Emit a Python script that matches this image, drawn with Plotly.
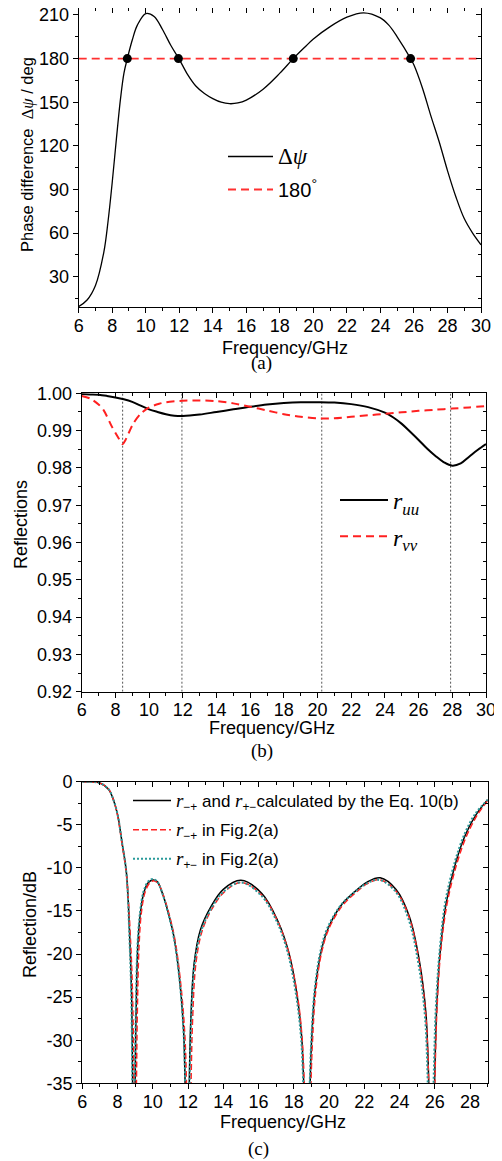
import plotly.graph_objects as go

# ---------------- data ----------------
# (a) phase difference
freq_a = [6, 6.5, 7, 7.5, 7.75, 8, 8.25, 8.5, 8.7, 8.9, 9.2, 9.5, 10, 10.5, 11, 11.5, 12, 12.5,
          13, 13.5, 14, 14.5, 15, 15.5, 16, 17, 18, 18.8, 19.5, 20, 21, 22, 23, 24, 24.5, 25,
          25.8, 26, 26.5, 27, 27.5, 28, 28.5, 29, 29.5, 30]
dpsi = [9.5, 14, 24, 47, 68, 95, 125, 153, 170, 180, 193, 203, 211, 209, 200, 189, 179.5, 169,
        161, 156, 152.5, 150, 149, 149.5, 151.5, 159, 170, 180, 188, 193.5, 202, 208.5, 211.5,
        208, 203, 195, 180, 175.6, 160, 141, 123, 103, 85, 70, 60, 52]
ref_f = [6, 30]
ref_180 = [180, 180]
cross_f = [8.9, 11.95, 18.8, 25.8]
cross_y = [180, 180, 180, 180]

# (b) reflections
freq_uu = [6, 6.5, 7, 7.5, 8, 8.5, 9, 9.5, 10, 10.5, 11, 11.5, 12, 13, 14, 15, 16, 17, 18, 19,
           20, 21, 22, 23, 24, 24.5, 25, 25.5, 26, 26.5, 27, 27.5, 28, 28.5, 29, 29.5, 30]
r_uu = [0.9998, 0.9997, 0.9996, 0.9993, 0.9989, 0.9984, 0.9977, 0.9967, 0.9957, 0.9950, 0.9944,
        0.9940, 0.9939, 0.9943, 0.9950, 0.9957, 0.9964, 0.9970, 0.9974, 0.9976, 0.9976, 0.9975,
        0.9971, 0.9963, 0.9948, 0.9935, 0.9918, 0.9897, 0.9875, 0.9852, 0.9832, 0.9815, 0.9806,
        0.9812, 0.9830, 0.9848, 0.9864]
freq_vv = [6, 6.5, 7, 7.3, 7.8, 8.2, 8.43, 8.6, 9.05, 9.5, 10, 10.6, 11, 12, 13, 14, 15, 16, 17,
           18, 19, 20, 21, 22, 23, 24, 25, 26, 27, 28, 29, 30]
r_vv = [0.9993, 0.9986, 0.9970, 0.9955, 0.9910, 0.9879, 0.9864, 0.9875, 0.9918, 0.9945, 0.9962,
        0.9972, 0.9976, 0.9980, 0.9981, 0.9979, 0.9973, 0.9964, 0.9954, 0.9944, 0.9937, 0.9933,
        0.9933, 0.9937, 0.9941, 0.9945, 0.9949, 0.9953, 0.9956, 0.9959, 0.9962, 0.9966]
mark_f = [8.43, 11.95, 20.25, 27.9]

# (c) reflection in dB
freq_eq = [6, 6.5, 7, 7.5, 7.75, 8, 8.25, 8.5, 8.7, 8.8, 8.92, 9.05, 9.15, 9.3, 9.5, 9.75, 10,
           10.25, 10.5, 10.85, 11.2, 11.5, 11.75, 11.95, 12.15, 12.35, 12.7, 13.3, 14, 15, 16.2,
           17.1, 17.7, 18.15, 18.45, 18.75, 19.0, 19.2, 19.55, 19.95, 20.7, 21.5, 22.2, 22.9,
           23.8, 24.55, 25.1, 25.5, 25.82, 26.1, 26.3, 26.65, 27.2, 27.75, 28.35, 29]
db_eq = [0, -0.02, -0.15, -0.9, -2.0, -3.8, -7.0, -10.5, -18.5, -25, -45, -27, -19, -15.2, -12.8,
         -11.7, -11.4, -11.6, -12.7, -15, -18, -22.5, -29, -45, -28, -21, -17.2, -14.5, -12.5,
         -11.45, -13, -16.2, -19.7, -24.3, -29.7, -45, -30.5, -24.3, -19.7, -17, -14.3, -12.7,
         -11.6, -11.15, -12.5, -15.6, -20.5, -27, -45, -26.5, -19.8, -14, -9.3, -6.1, -3.8, -2.1]
freq_mp = [6, 6.5, 7, 7.5, 7.75, 8, 8.25, 8.5, 8.75, 8.86, 9.0, 9.12, 9.22, 9.35, 9.55, 9.8,
           10.05, 10.3, 10.55, 10.9, 11.25, 11.55, 11.82, 12.05, 12.25, 12.45, 12.8, 13.4, 14.1,
           15.05, 16.2, 17.1, 17.7, 18.18, 18.48, 18.78, 19.05, 19.25, 19.6, 20.0, 20.75, 21.5,
           22.2, 22.9, 23.8, 24.55, 25.1, 25.5, 25.83, 26.12, 26.33, 26.7, 27.25, 27.8, 28.4, 29]
db_mp = [0, -0.02, -0.15, -0.9, -2.0, -3.9, -7.2, -10.7, -19, -25.5, -45, -27, -19, -15.2, -12.9,
         -11.8, -11.5, -11.8, -12.9, -15.2, -18.3, -22.8, -29.5, -45, -28, -21, -17.3, -14.6,
         -12.7, -11.7, -13.2, -16.3, -19.8, -24.5, -30, -45, -30.5, -24.2, -19.6, -17, -14.4,
         -12.9, -11.8, -11.4, -12.7, -15.8, -20.8, -27.5, -45, -26.5, -19.8, -14.1, -9.5, -6.3,
         -3.9, -2.2]
freq_pm = [6, 6.5, 7, 7.5, 7.75, 8, 8.25, 8.5, 8.68, 8.78, 8.9, 9.03, 9.13, 9.28, 9.48, 9.73,
           9.98, 10.25, 10.5, 10.85, 11.2, 11.5, 11.75, 11.98, 12.17, 12.38, 12.75, 13.35, 14.05,
           15, 16.15, 17.05, 17.65, 18.1, 18.42, 18.72, 18.98, 19.18, 19.52, 19.92, 20.68, 21.45,
           22.15, 22.85, 23.75, 24.5, 25.05, 25.45, 25.76, 26.05, 26.27, 26.6, 27.15, 27.7, 28.3, 29]
db_pm = [0, -0.02, -0.15, -0.9, -2.0, -3.8, -7.0, -10.6, -18.5, -25, -45, -27, -19, -15.1, -12.7,
         -11.6, -11.3, -11.6, -12.7, -15.1, -18.2, -22.7, -29.3, -45, -28, -21, -17.3, -14.6,
         -12.7, -11.7, -13.2, -16.3, -19.8, -24.4, -30, -45, -30.5, -24.2, -19.6, -16.9, -14.3,
         -12.8, -11.8, -11.4, -12.7, -15.9, -20.9, -27.5, -45, -26.5, -19.7, -13.9, -9.2, -6.0,
         -3.7, -2.1]
db_ticks = [0, -5, -10, -15, -20, -25, -30, -35]
db_ticktext = ["0", "-5", "-10", "-15", "-20", "-25", "-30", "-35"]

# the page body has an 8px margin, so the figure is drawn 8px in from the top-left
OFF = 8
W, H = 502 - OFF, 1161 - OFF
FONT = "Liberation Sans"
SERIF = "Liberation Serif"


def fx(px):
    return (px - OFF) / W


def fy(py):
    return 1 - (py - OFF) / H


fig = go.Figure()

# (a)
fig.add_trace(go.Scatter(x=freq_a, y=dpsi, mode="lines", line=dict(color="black", width=1.3, shape="spline", smoothing=1),
                         name=f'<span style="font-family:{SERIF};font-size:23px">Δ<i>ψ</i></span>',
                         legend="legend", legendgroup="a1"))
fig.add_trace(go.Scatter(x=ref_f, y=ref_180, mode="lines", line=dict(color="#FF3030", width=1.8, dash="8px,5px"),
                         name="180<sup>°</sup>", legend="legend", legendgroup="a2"))
fig.add_trace(go.Scatter(x=cross_f, y=cross_y, mode="markers", marker=dict(color="black", size=9),
                         showlegend=False))

# (b)
for f in mark_f:
    fig.add_trace(go.Scatter(x=[f, f], y=[0.92, 1.0], mode="lines", xaxis="x2", yaxis="y2",
                             line=dict(color="#555555", width=1, dash="2px,2px"), showlegend=False))
fig.add_trace(go.Scatter(x=freq_uu, y=r_uu, mode="lines", xaxis="x2", yaxis="y2",
                         line=dict(color="black", width=2, shape="spline", smoothing=1),
                         name=f'<span style="font-family:{SERIF}"><i>r</i><sub><i>uu</i></sub></span>',
                         legend="legend2", legendgroup="b1"))
fig.add_trace(go.Scatter(x=freq_vv, y=r_vv, mode="lines", xaxis="x2", yaxis="y2",
                         line=dict(color="#FF2020", width=2, dash="8px,5px", shape="spline", smoothing=0.8),
                         name=f'<span style="font-family:{SERIF}"><i>r</i><sub><i>vv</i></sub></span>',
                         legend="legend2", legendgroup="b2"))

# (c)
rs = f'<span style="font-family:{SERIF};font-size:19px"><i>r</i></span>'
fig.add_trace(go.Scatter(x=freq_eq, y=db_eq, mode="lines", xaxis="x3", yaxis="y3",
                         line=dict(color="black", width=1.5, shape="spline", smoothing=1),
                         name=f"{rs}<sub>−+</sub> and {rs}<sub>+−</sub>calculated by the Eq. 10(b)",
                         legend="legend3", legendgroup="c1"))
fig.add_trace(go.Scatter(x=freq_mp, y=db_mp, mode="lines", xaxis="x3", yaxis="y3",
                         line=dict(color="#FF2020", width=1.5, dash="6px,3px", shape="spline", smoothing=1),
                         name=f"{rs}<sub>−+</sub> in Fig.2(a)", legend="legend3", legendgroup="c2"))
fig.add_trace(go.Scatter(x=freq_pm, y=db_pm, mode="lines", xaxis="x3", yaxis="y3",
                         line=dict(color="#2A9A9A", width=2, dash="2px,2px", shape="spline", smoothing=1),
                         name=f"{rs}<sub>+−</sub> in Fig.2(a)", legend="legend3", legendgroup="c3"))

tickfont = dict(family=FONT, size=18, color="black")


def base_x(dom, anchor, rng, dtick, minor_dtick):
    return dict(domain=dom, anchor=anchor, range=rng, dtick=dtick, tick0=0, showgrid=False, zeroline=False,
                showline=True, linecolor="black", linewidth=1.3, mirror=True,
                ticks="outside", ticklen=5, tickwidth=1.2, tickcolor="black", tickfont=tickfont,
                ticklabelstandoff=-3, ticklabeloverflow="allow",
                minor=dict(dtick=minor_dtick, ticks="outside", ticklen=3, tickwidth=1, tickcolor="black"))


def base_y(dom, anchor, rng, dtick, minor_dtick, **extra):
    d = dict(domain=dom, anchor=anchor, range=rng, dtick=dtick, tick0=0, showgrid=False, zeroline=False,
             showline=True, linecolor="black", linewidth=1.3, mirror=True,
             ticks="outside", ticklen=5, tickwidth=1.2, tickcolor="black", tickfont=tickfont,
             ticklabeloverflow="allow",
             minor=dict(dtick=minor_dtick, ticks="outside", ticklen=3, tickwidth=1, tickcolor="black"))
    d.update(extra)
    return d


def over_x(main, anchor, rng, dtick, minor_dtick):
    return dict(overlaying=main, anchor=anchor, side="top", range=rng, dtick=dtick, tick0=0,
                showgrid=False, zeroline=False, showline=False, showticklabels=False,
                ticks="inside", ticklen=5, tickwidth=1.2, tickcolor="black",
                minor=dict(dtick=minor_dtick, ticks="inside", ticklen=3, tickwidth=1, tickcolor="black"))


def over_y(main, anchor, rng, dtick, minor_dtick):
    return dict(overlaying=main, anchor=anchor, side="right", range=rng, dtick=dtick, tick0=0,
                showgrid=False, zeroline=False, showline=False, showticklabels=False,
                ticks="inside", ticklen=5, tickwidth=1.2, tickcolor="black",
                minor=dict(dtick=minor_dtick, ticks="inside", ticklen=3, tickwidth=1, tickcolor="black"))


# plot areas in reference pixels (left, right, top, bottom)
xa_dom, ya_dom = [fx(78.7), fx(481)], [fy(307), fy(8.3)]
xb_dom, yb_dom = [fx(81.7), fx(486)], [fy(691.7), fy(393.3)]
xc_dom, yc_dom = [fx(82.3), fx(487.7)], [fy(1083.3), fy(781.7)]

rng_ya = [9.2, 214.6]
rng_yb = [0.92, 1.0]
rng_yc = [-35, 0]

# invisible traces so the overlay axes get drawn
for xa, ya in [("x4", "y4"), ("x5", "y5"), ("x6", "y6")]:
    fig.add_trace(go.Scatter(x=[None], y=[None], xaxis=xa, yaxis=ya, showlegend=False, hoverinfo="skip"))

fig.update_layout(
    width=W, height=H,
    margin=dict(l=0, r=0, t=0, b=0, pad=0, autoexpand=False),
    paper_bgcolor="white", plot_bgcolor="rgba(0,0,0,0)",
    font=dict(family=FONT, color="black"),
    xaxis=base_x(xa_dom, "y", [6, 30], 2, 1),
    yaxis=base_y(ya_dom, "x", rng_ya, 30, 15),
    xaxis2=base_x(xb_dom, "y2", [6, 30], 2, 1),
    yaxis2=base_y(yb_dom, "x2", rng_yb, 0.01, 0.005, tickformat=".2f"),
    xaxis3=base_x(xc_dom, "y3", [6, 29], 2, 1),
    yaxis3=base_y(yc_dom, "x3", rng_yc, 5, 2.5, tickmode="array", tickvals=db_ticks, ticktext=db_ticktext),
    xaxis4=over_x("x", "y4", [6, 30], 2, 1),
    yaxis4=over_y("y", "x4", rng_ya, 30, 15),
    xaxis5=over_x("x2", "y5", [6, 30], 2, 1),
    yaxis5=over_y("y2", "x5", rng_yb, 0.01, 0.005),
    xaxis6=over_x("x3", "y6", [6, 29], 2, 1),
    yaxis6=over_y("y3", "x6", rng_yc, 5, 2.5),
    legend=dict(x=fx(223), y=fy(137), xanchor="left", yanchor="top", bgcolor="rgba(0,0,0,0)",
                font=dict(family=FONT, size=20, color="black"), tracegroupgap=4, itemwidth=45),
    legend2=dict(x=fx(335), y=fy(478), xanchor="left", yanchor="top", bgcolor="rgba(0,0,0,0)",
                 font=dict(family=FONT, size=24, color="black"), tracegroupgap=2, itemwidth=48),
    legend3=dict(x=fx(128), y=fy(783), xanchor="left", yanchor="top", bgcolor="rgba(0,0,0,0)",
                 font=dict(family=FONT, size=17, color="black"), tracegroupgap=4, itemwidth=38),
    showlegend=True,
)

# axis titles and panel labels (reference pixel positions)
ann = [
    ("Frequency/GHz", 285, 348, 0, FONT, 18),
    ("(a)", 261, 363, 0, SERIF, 19),
    ("Frequency/GHz", 272, 728, 0, FONT, 18),
    ("(b)", 262, 751, 0, SERIF, 19),
    ("Frequency/GHz", 283, 1122, 0, FONT, 18),
    ("(c)", 259, 1149, 0, SERIF, 19),
    (f'Phase difference  <span style="font-family:{SERIF}">Δ<i>ψ</i></span> / deg', 27, 155, -90, FONT, 16.5),
    ("Reflections", 21, 525, -90, FONT, 18),
    ("Reflection/dB", 30, 925, -90, FONT, 18),
]
for text, x, y, ang, fam, size in ann:
    fig.add_annotation(text=text, x=fx(x), y=fy(y), xref="paper", yref="paper", showarrow=False,
                       xanchor="center", yanchor="middle", textangle=ang, borderpad=0,
                       font=dict(family=fam, size=size, color="black"))

fig.write_html("out.html")
